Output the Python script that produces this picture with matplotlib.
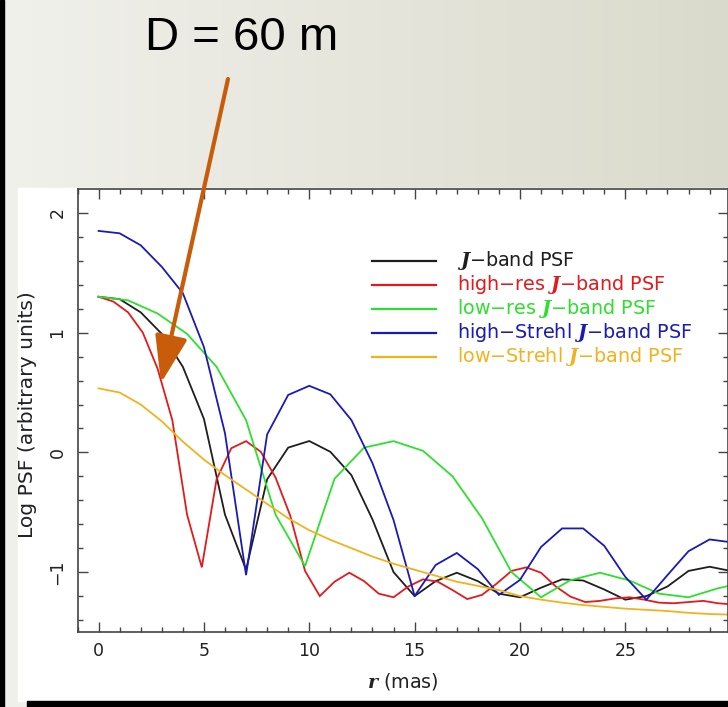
import numpy as np
import matplotlib
matplotlib.use("Agg")
import matplotlib.pyplot as plt
from matplotlib.patches import Rectangle, FancyArrowPatch
from matplotlib.lines import Line2D

# ---- data: log PSF profiles vs radius (mas) ----
step_j = 1.0          # sampling of the J-band, high-Strehl and low-Strehl profiles
step_high_res = 0.7   # sampling of the high-res profile
step_low_res = 1.4    # sampling of the low-res profile

psf_j = [1.30, 1.28, 1.17, 0.99, 0.715, 0.28, -0.52, -0.98, -0.225, 0.04,
         0.095, 0.005, -0.19, -0.56, -1.0, -1.20, -1.075, -1.005, -1.075, -1.18,
         -1.21, -1.13, -1.06, -1.07, -1.145, -1.23, -1.20, -1.12, -0.99, -0.955,
         -0.99]
psf_high_res = [1.30, 1.26, 1.17, 1.00, 0.70, 0.27, -0.52, -0.96, -0.225, 0.035,
                0.094, 0.005, -0.21, -0.53, -0.99, -1.20, -1.08, -1.005, -1.075, -1.18,
                -1.21, -1.12, -1.06, -1.08, -1.15, -1.225, -1.19, -1.095, -0.99, -0.96,
                -1.005, -1.12, -1.205, -1.25, -1.24, -1.22, -1.21, -1.23, -1.255, -1.26,
                -1.25, -1.24, -1.26, -1.27]
psf_low_res = [1.30, 1.27, 1.16, 0.99, 0.715, 0.27, -0.52, -0.95, -0.22, 0.04,
               0.094, 0.013, -0.20, -0.55, -1.0, -1.21, -1.067, -1.005, -1.07, -1.18,
               -1.21, -1.135, -1.08]
psf_high_strehl = [1.85, 1.83, 1.73, 1.55, 1.33, 0.88, 0.16, -1.025, 0.15, 0.48,
                   0.556, 0.485, 0.27, -0.09, -0.565, -1.20, -0.94, -0.84, -0.975, -1.19,
                   -1.065, -0.79, -0.635, -0.635, -0.78, -1.04, -1.23, -1.025, -0.825, -0.727,
                   -0.75]
psf_low_strehl = [0.535, 0.50, 0.40, 0.26, 0.09, -0.06, -0.19, -0.31, -0.43, -0.55,
                  -0.65, -0.73, -0.80, -0.87, -0.93, -0.98, -1.03, -1.08, -1.115, -1.15,
                  -1.20, -1.23, -1.255, -1.275, -1.29, -1.305, -1.315, -1.325, -1.34, -1.35,
                  -1.355]

labels = [r"$\mathbfit{J}$−band PSF",
          r"high−res $\mathbfit{J}$−band PSF",
          r"low−res $\mathbfit{J}$−band PSF",
          r"high−Strehl $\mathbfit{J}$−band PSF",
          r"low−Strehl $\mathbfit{J}$−band PSF"]
colors = ["#1e1e1e", "#e31a1c", "#2ee02e", "#1a1ab4", "#f2b21e"]
series = [(psf_j, step_j), (psf_high_res, step_high_res), (psf_low_res, step_low_res),
          (psf_high_strehl, step_j), (psf_low_strehl, step_j)]

title_text = "D = 60 m"
xlabel_text = r"$\mathbfit{r}$ (mas)"
ylabel_text = "Log PSF (arbitrary units)"

plt.rcParams["font.family"] = ["DejaVu Sans"]
plt.rcParams["mathtext.fontset"] = "custom"
plt.rcParams["mathtext.rm"] = "DejaVu Sans"
plt.rcParams["mathtext.bfit"] = "DejaVu Serif:italic:bold"

W, H = 728, 707
fig = plt.figure(figsize=(W / 100, H / 100), dpi=100)

# ---- slide background ----
bg = fig.add_axes([0, 0, 1, 1], zorder=-10)
grad = np.linspace(0, 1, 256)[None, :, None]
left_c = np.array([0.945, 0.945, 0.925])[None, None, :]
right_c = np.array([0.855, 0.855, 0.80])[None, None, :]
bg.imshow(left_c * (1 - grad) + right_c * grad, extent=[0, W, H, 0], aspect="auto")
bg.add_patch(Rectangle((0, 0), 4, H, color="black"))
bg.add_patch(Rectangle((18, 188), W - 18, 513, color="white"))
bg.add_patch(Rectangle((27, 701), W - 27, 6, color="black"))
bg.set_xlim(0, W)
bg.set_ylim(H, 0)
bg.axis("off")

# ---- title ----
fig.text(242 / W, 1 - 50 / H, title_text, ha="center", va="baseline",
         fontsize=34, family="Liberation Sans", color="black")

# ---- main plot ----
ax = fig.add_axes([77.5 / W, 1 - 632 / H, 650 / W, 443 / H])
ax.set_facecolor("none")
for (vals, step), c in zip(series, colors):
    r = np.arange(len(vals)) * step
    ax.plot(r, vals, color=c, lw=1.3, solid_joinstyle="miter")

ax.set_xlim(-1, 29.85)
ax.set_ylim(-1.5, 2.2)
ax.set_xticks([0, 5, 10, 15, 20, 25])
ax.set_xticks(np.arange(-1, 30, 1), minor=True)
ax.set_yticks([-1, 0, 1, 2])
ax.set_yticklabels(["−1", "0", "1", "2"])
ax.set_yticks(np.arange(-1.4, 2.2, 0.2), minor=True)
ax.tick_params(which="both", direction="in", top=True, right=True,
               color="#444444", width=1.0, labelcolor="#222222")
ax.tick_params(which="major", length=7.5)
ax.tick_params(which="minor", length=3.8)
ax.tick_params(axis="x", labelsize=12.5, pad=7)
ax.tick_params(axis="y", labelsize=12.5, pad=8, labelrotation=90)
plt.setp(ax.get_yticklabels(), va="center")
for s in ax.spines.values():
    s.set_color("#444444")
    s.set_linewidth(1.2)

ax.set_xlabel(xlabel_text, fontsize=13.8, color="#222222")
ax.xaxis.set_label_coords(0.5, (632 - 681) / 443)
ax.xaxis.label.set_va("center")
ax.set_ylabel(ylabel_text, fontsize=14.6, color="#222222")
ax.yaxis.set_label_coords((28 - 77.5) / 650, 0.49)
ax.yaxis.label.set_va("center")

# ---- legend keys ----
for i, (lab, c) in enumerate(zip(labels, colors)):
    y = (632 - 261 - 24 * i) / 443
    ax.add_line(Line2D([(372 - 77.5) / 650, (436 - 77.5) / 650], [y, y],
                       transform=ax.transAxes, color=c, lw=1.6))
    ax.text((457 - 77.5) / 650, y, lab, transform=ax.transAxes, color=c,
            fontsize=13.8, ha="left", va="center")

# ---- arrow, on an overlay in pixel coordinates ----
over = fig.add_axes([0, 0, 1, 1], zorder=10)
over.set_xlim(0, W)
over.set_ylim(H, 0)
over.axis("off")
over.add_patch(FancyArrowPatch((228, 79), (161, 383),
                               arrowstyle="-|>,head_length=29,head_width=10",
                               mutation_scale=1, lw=3.0, color="#c85c0a",
                               shrinkA=0, shrinkB=0))

fig.savefig("out.png", dpi=100)
